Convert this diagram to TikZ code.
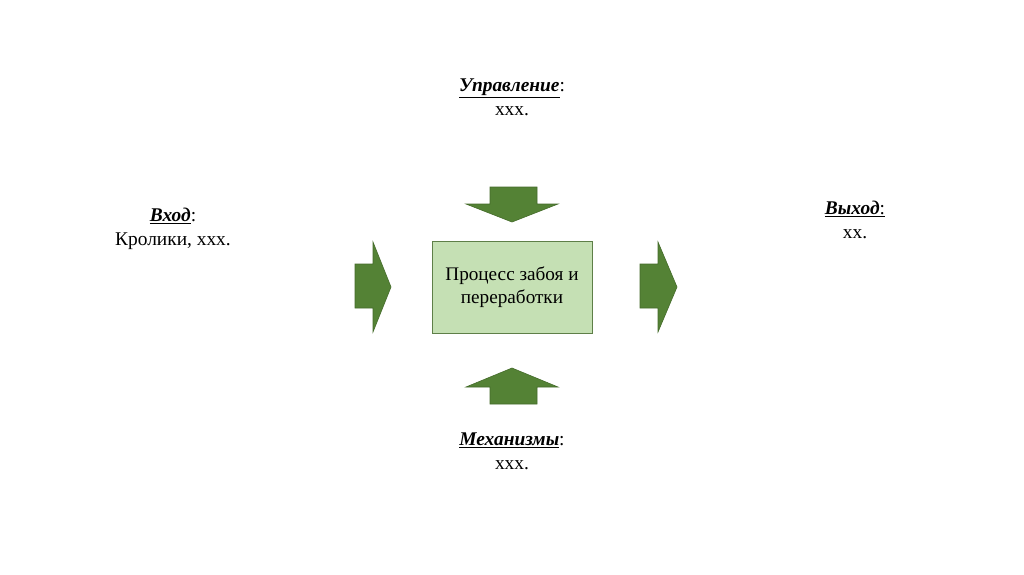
\documentclass[tikz,border=0pt]{standalone}
\usepackage{fontspec}
\setmainfont{Liberation Serif}
\definecolor{arrowgreen}{HTML}{548235}
\definecolor{arrowedge}{HTML}{446B2A}
\definecolor{boxfill}{HTML}{C5E0B4}
\definecolor{boxedge}{HTML}{5E7F48}
\tikzset{
  bigarrow/.style={fill=arrowgreen, draw=arrowedge, line width=0.6pt, line join=miter},
  label/.style={align=center, font=\fontsize{19.4}{24}\selectfont, inner sep=0pt},
  procbox/.style={draw=boxedge, fill=boxfill, line width=0.8pt, minimum width=160pt, minimum height=92pt, align=center, font=\fontsize{19.2}{23.5}\selectfont, inner sep=0pt}
}
\newcommand{\ulhead}[1]{\underline{\textbf{\textit{#1}}}}
\begin{document}
\begin{tikzpicture}[x=1pt,y=-1pt]
\useasboundingbox (0,0) rectangle (1024,574);
\fill[white] (0,0) rectangle (1024,574);
% process box
\node[procbox] (proc) at (512,287) {Процесс забоя и\\переработки};
% top arrow (down)
\draw[bigarrow] (490,187) -- (537,187) -- (537,204) -- (558,204) -- (512,222) -- (466,204) -- (490,204) -- cycle;
% bottom arrow (up)
\draw[bigarrow] (490,404) -- (537,404) -- (537,387) -- (558,387) -- (512,368) -- (466,387) -- (490,387) -- cycle;
% left arrow (right)
\draw[bigarrow] (355,264) -- (373,264) -- (373,242) -- (391,287) -- (373,332) -- (373,308) -- (355,308) -- cycle;
% right arrow (right)
\draw[bigarrow] (640,264) -- (658,264) -- (658,242) -- (677,287) -- (658,332) -- (658,308) -- (640,308) -- cycle;
% labels
\node[label] (ctrl) at (512,97) {\ulhead{Управление}:\\ххх.};
\node[label] (inp) at (173,229) {\ulhead{Вход}:\\Кролики, ххх.};
\node[label] (outp) at (855,220) {\underline{\textbf{\textit{Выход}}:}\\хх.};
\node[label] (mech) at (512,451) {\ulhead{Механизмы}:\\ххх.};
\end{tikzpicture}
\end{document}
